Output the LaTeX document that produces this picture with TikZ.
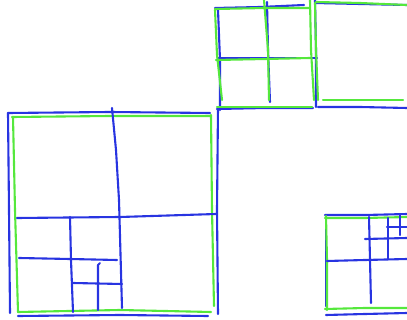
\documentclass[tikz,border=0pt]{standalone}
\usetikzlibrary{calc}
\definecolor{penblue}{RGB}{40,52,225}
\definecolor{pengreen}{RGB}{85,232,60}
\tikzset{
    bluepen/.style={draw=penblue, line width=2.1pt, line cap=round, line join=round},
    greenpen/.style={draw=pengreen, line width=2.1pt, line cap=round, line join=round},
}
\begin{document}
\begin{tikzpicture}[x=1pt, y=-1pt]
    \useasboundingbox (0,0) rectangle (407,320);

    % big square, lower left
    \draw[bluepen] (8,113) -- (110,112) -- (210,113);
    \draw[bluepen] (8,113) -- (9,210) -- (10,313);
    \draw[bluepen] (18,316) -- (120,315) -- (208,316);
    \draw[bluepen] (218,108) -- (217,210) -- (218,314);
    \draw[greenpen] (12,117) -- (110,116) -- (211,116);
    \draw[greenpen] (13,117) -- (15,210) -- (18,312);
    \draw[greenpen] (18,312) -- (120,310) -- (211,312);
    \draw[greenpen] (211,115) -- (212,210) -- (214,306);
    % subdivisions
    \draw[bluepen] (112,108) -- (116,150) -- (119,200) -- (122,308);
    \draw[bluepen] (17,218) -- (120,217) -- (216,214);
    \draw[bluepen] (70,217) -- (71,260) -- (73,312);
    \draw[bluepen] (19,258) -- (70,259) -- (117,260);
    \draw[bluepen] (73,283) -- (122,284);
    \draw[bluepen] (100,263) -- (98,265) -- (98,310);

    % small square, top middle
    \draw[bluepen] (215,8) -- (260,7) -- (304,5);
    \draw[bluepen] (218,10) -- (220,60) -- (220,110);
    \draw[bluepen] (218,58) -- (270,58) -- (317,58);
    \draw[bluepen] (267,2) -- (268,50) -- (270,102);
    \draw[bluepen] (315,0) -- (316,50) -- (316,107);
    \draw[bluepen] (217,109) -- (265,108) -- (313,108);
    \draw[greenpen] (215,9) -- (265,8) -- (310,8);
    \draw[greenpen] (215,10) -- (217,55) -- (222,100);
    \draw[greenpen] (216,60) -- (265,59) -- (310,58);
    \draw[greenpen] (264,0) -- (268,50) -- (269,100);
    \draw[greenpen] (310,0) -- (311,50) -- (314,100);
    \draw[greenpen] (217,107) -- (265,107) -- (312,107);

    % square, top right
    \draw[bluepen] (315,3) -- (360,4) -- (407,5);
    \draw[bluepen] (318,107) -- (360,107) -- (407,108);
    \draw[greenpen] (316,2) -- (360,3) -- (407,5);
    \draw[greenpen] (323,100) -- (360,100) -- (403,100);
    \draw[greenpen] (315,3) -- (316,50) -- (318,100);

    % square, bottom right
    \draw[bluepen] (325,215) -- (365,215) -- (407,214);
    \draw[bluepen] (326,215) -- (326,260) -- (326,306);
    \draw[bluepen] (326,315) -- (365,314) -- (407,313);
    \draw[greenpen] (325,218) -- (365,218) -- (407,217);
    \draw[greenpen] (326,216) -- (327,260) -- (327,310);
    \draw[greenpen] (325,309) -- (365,308) -- (407,308);
    % subdivisions
    \draw[bluepen] (327,261) -- (365,260) -- (407,259);
    \draw[bluepen] (369,217) -- (370,260) -- (371,303);
    \draw[bluepen] (365,239) -- (407,238);
    \draw[bluepen] (388,218) -- (388,259);
    \draw[bluepen] (387,227) -- (407,227);
    \draw[bluepen] (400,214) -- (400,235);

\end{tikzpicture}
\end{document}
